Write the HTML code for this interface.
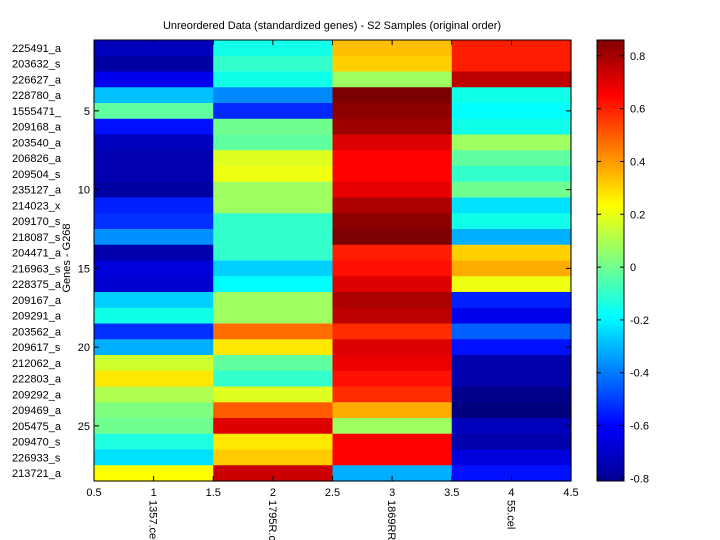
<!DOCTYPE html>
<html><head><meta charset="utf-8"><style>
body{margin:0;background:#fff;}
svg{display:block;font-family:"Liberation Sans",sans-serif;}
</style></head><body>
<svg id="s" width="720" height="540" xmlns="http://www.w3.org/2000/svg">
<rect width="720" height="540" fill="#fff"/>
<g id="cells"></g>
<defs><linearGradient id="cb" x1="0" y1="1" x2="0" y2="0">
<stop offset="0" stop-color="#00008f"/>
<stop offset="0.125" stop-color="#0000ff"/>
<stop offset="0.375" stop-color="#00ffff"/>
<stop offset="0.625" stop-color="#ffff00"/>
<stop offset="0.875" stop-color="#ff0000"/>
<stop offset="1" stop-color="#800000"/>
</linearGradient></defs>
<rect x="597" y="40" width="27" height="441" fill="url(#cb)" stroke="#000" stroke-width="1"/>
<rect x="94" y="40" width="477" height="441" fill="none" stroke="#000" stroke-width="1"/>
<g id="ax" font-size="11" fill="#000"></g>
<text x="332" y="29" font-size="11" text-anchor="middle">Unreordered Data (standardized genes) - S2 Samples (original order)</text>
<text x="0" y="0" font-size="11" text-anchor="middle" transform="translate(70,258) rotate(-90)">Genes - G268</text>
</svg>
<script>
var c1="0000bc 0000a0 0000ec 00c0ff 60ffa0 0010ff 0000bc 0000b0 0000b0 0000a0 0020ff 0030ff 0090ff 0000ac 0000dc 0000d0 00d0ff 10ffe8 0030ff 00b0ff d0ff30 ffe800 b0ff50 80ff80 70ff8f 20ffe0 00e0ff ffff00".split(" ");
var c2="10ffe8 33ffcc 10ffe8 0088ff 0028ff 70ff8f 60ff9f dfff20 efff10 a0ff60 a0ff60 33ffcc 33ffcc 33ffcc 00d0ff 00ffff a0ff60 a0ff60 ff6c00 ffe800 60ffa0 33ffcc dfff20 ff5c00 df0000 ffe800 ffcc00 cc0000".split(" ");
var c3="ffbf00 ffd000 a0ff60 7c0000 8c0000 9c0000 de0000 ff0000 ff0000 e60000 ac0000 8c0000 7c0000 ff1c00 ff1000 de0000 ac0000 bc0000 ff2c00 de0000 ec0000 ff1000 ff2c00 ffac00 a0ff60 ff0000 ff0000 00b0ff".split(" ");
var c4="ff1c00 ff1c00 bc0000 10ffe8 00ffff 10ffe8 a0ff60 60ffa0 33ffcc 70ff8f 00e0ff 10ffe8 00b0ff ffd000 ffac00 efff10 0020ff 0000ec 0060ff 0010ff 0000ac 0000ac 00008c 00007c 0000bc 0000ac 0000dc 0010ff".split(" ");
var cols=[c1,c2,c3,c4],NS="http://www.w3.org/2000/svg";
var g=document.getElementById("cells"),ax=document.getElementById("ax");
var x0=94,cw=119.25,y0=40,rh=441/28;
function el(n,a,t){var e=document.createElementNS(NS,n);for(var k in a)e.setAttribute(k,a[k]);if(t)e.textContent=t;return e;}
for(var c=0;c<4;c++)for(var r=0;r<28;r++){
g.appendChild(el("rect",{x:x0+c*cw,y:y0+r*rh,width:cw+0.6,height:rh+0.6,fill:"#"+cols[c][r]}));}
var names=["225491_a","203632_s","226627_a","228780_a","1555471_","209168_a","203540_a","206826_a","209504_s","235127_a","214023_x","209170_s","218087_s","204471_a","216963_s","228375_a","209167_a","209291_a","203562_a","209617_s","212062_a","222803_a","209292_a","209469_a","205475_a","209470_s","226933_s","213721_a"];
for(var r=0;r<28;r++){ax.appendChild(el("text",{x:12,y:y0+(r+0.5)*rh+4},names[r]));}
[5,10,15,20,25].forEach(function(n){var y=y0+(n-0.5)*rh;
ax.appendChild(el("text",{x:90,y:y+4,"text-anchor":"end"},""+n));
ax.appendChild(el("line",{x1:94,x2:99,y1:y,y2:y,stroke:"#000"}));
ax.appendChild(el("line",{x1:566,x2:571,y1:y,y2:y,stroke:"#000"}));});
["0.5","1","1.5","2","2.5","3","3.5","4","4.5"].forEach(function(s,i){var x=x0+i*cw/2;
ax.appendChild(el("text",{x:x,y:496,"text-anchor":"middle"},s));
ax.appendChild(el("line",{x1:x,x2:x,y1:481,y2:476,stroke:"#000"}));
ax.appendChild(el("line",{x1:x,x2:x,y1:40,y2:45,stroke:"#000"}));});
["1357.cel","1795R.c","1869RR","55.cel"].forEach(function(s,i){var x=x0+(i+0.5)*cw;
ax.appendChild(el("text",{x:0,y:0,transform:"translate("+(x-4)+",500) rotate(90)"},s));});
[0.8,0.6,0.4,0.2,0,-0.2,-0.4,-0.6,-0.8].forEach(function(v){var y=40+(0.86-v)/1.67*441;
ax.appendChild(el("text",{x:630,y:y+4},""+v));
ax.appendChild(el("line",{x1:597,x2:601,y1:y,y2:y,stroke:"#000"}));
ax.appendChild(el("line",{x1:620,x2:624,y1:y,y2:y,stroke:"#000"}));});
</script>
</body></html>
